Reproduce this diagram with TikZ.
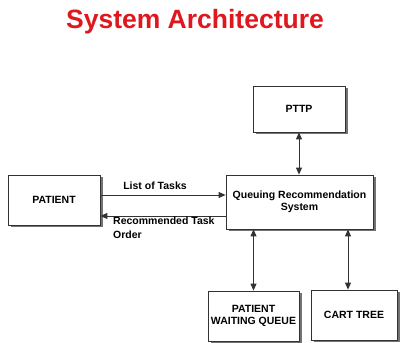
\documentclass[tikz,border=0pt]{standalone}
\usepackage{fontspec}
\setmainfont{Liberation Sans}
\usetikzlibrary{arrows.meta,shadows}
\definecolor{titlered}{RGB}{222,24,30}
\definecolor{linegray}{RGB}{50,50,50}
\tikzset{
  box/.style={draw=linegray, line width=0.8pt, fill=white, align=center, font=\bfseries\fontsize{10.5}{12}\selectfont,
    inner sep=1pt, drop shadow={shadow xshift=2.5pt, shadow yshift=-2.5pt, fill=black!55, opacity=1}},
  conn/.style={draw=linegray, line width=0.9pt, -{Triangle[length=7pt,width=6pt]}},
  dconn/.style={draw=linegray, line width=0.9pt, {Triangle[length=7pt,width=6pt]}-{Triangle[length=7pt,width=6pt]}},
  lbl/.style={font=\bfseries\fontsize{10.5}{13.5}\selectfont, align=left, inner sep=0pt}
}
\begin{document}
\begin{tikzpicture}[x=1pt,y=1pt]
\useasboundingbox (0,0) rectangle (402,343);
\node[font=\bfseries\fontsize{26.5}{30}\selectfont, text=titlered] (title) at (195,321) {System Architecture};
\node[box, minimum width=92pt, minimum height=46pt] (pttp) at (299,234) {PTTP};
\node[box, minimum width=147pt, minimum height=54pt] (qrs) at (299.5,141) {Queuing Recommendation\\System};
\node[box, minimum width=92pt, minimum height=50pt] (patient) at (54,143) {PATIENT};
\node[box, minimum width=91pt, minimum height=50pt] (pwq) at (253.5,27) {PATIENT\\WAITING QUEUE};
\node[box, minimum width=86pt, minimum height=50pt] (cart) at (354,28) {CART TREE};
\draw[conn] ([yshift=5pt]patient.east) -- ([yshift=5pt]patient.east -| qrs.west);
\draw[conn] ([yshift=-16pt]patient.east -| qrs.west) -- ([yshift=-16pt]patient.east);
\draw[dconn] (pttp.south) -- (pttp.south |- qrs.north);
\draw[dconn] (pwq.north |- qrs.south) -- (pwq.north);
\draw[dconn] ([xshift=-6pt]cart.north |- qrs.south) -- ([xshift=-6pt]cart.north);
\node[lbl, anchor=south] (l1) at (155,153) {List of Tasks};
\node[lbl, anchor=north west] (l2) at (113,126) {Recommended Task\\Order};
\end{tikzpicture}
\end{document}
